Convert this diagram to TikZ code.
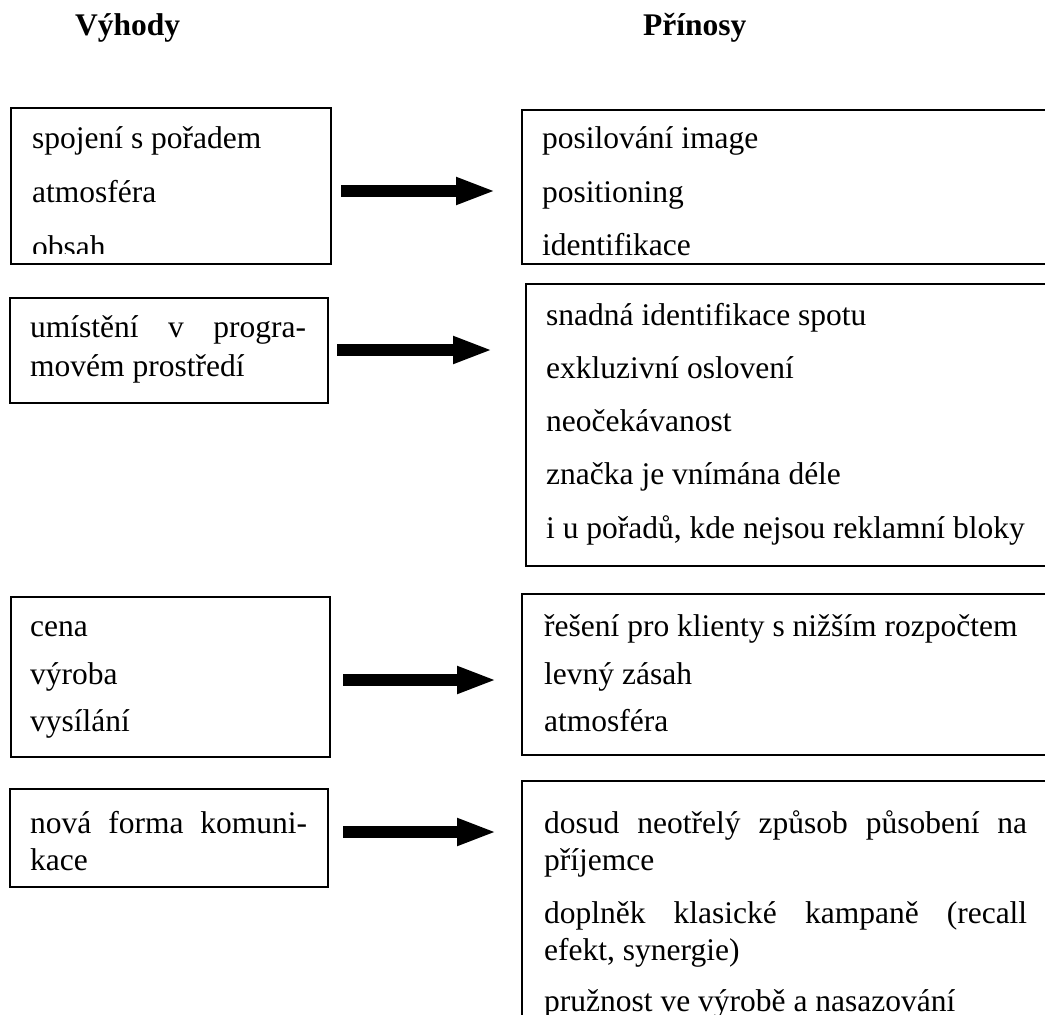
\documentclass[tikz,border=0pt]{standalone}
\usepackage{fontspec}
\setmainfont{Liberation Serif}
\usetikzlibrary{arrows.meta}
\begin{document}
\begin{tikzpicture}[x=1pt,y=-1pt,
  box/.style={draw, line width=2.2pt, inner sep=0pt, anchor=north west},
  item/.style={anchor=base west, inner sep=0pt, font=\fontsize{31.5pt}{39pt}\selectfont},
  head/.style={anchor=base west, inner sep=0pt, font=\fontsize{31.5pt}{39pt}\selectfont\bfseries},
  fatarrow/.style={line width=12pt, -{Triangle[length=40pt,width=25pt]}}]
\useasboundingbox (0,0) rectangle (1045,1015);
\clip (0,0) rectangle (1045,1015);

% column headings
\node[head] (hv) at (75,35) {Výhody};
\node[head] (hp) at (643,35) {Přínosy};

% row 1
\node[box, minimum width=320pt, minimum height=156pt] (l1) at (10,107) {};
\node[box, minimum width=600pt, minimum height=154pt] (r1) at (521,109) {};
\begin{scope}
  \clip (10,107) rectangle (330,253);
  \node[item] (l1a) at (32,148) {spojení s pořadem};
  \node[item] (l1b) at (32,202) {atmosféra};
  \node[item] (l1c) at (32,257) {obsah};
\end{scope}
\begin{scope}
  \clip (521,109) rectangle (1045,257);
  \node[item] (r1a) at (542,148) {posilování image};
  \node[item] (r1b) at (542,202) {positioning};
  \node[item] (r1c) at (542,255) {identifikace};
\end{scope}
\coordinate (a1s) at (341,191);
\coordinate (a1e) at (496,191);
\draw[fatarrow] (a1s) -- (a1e);

% row 2
\node[box, minimum width=318pt, minimum height=105pt] (l2) at (9,297) {};
\node[box, minimum width=600pt, minimum height=282pt] (r2) at (525,283) {};
\node[item] (l2a) at (30,337) {\hbox to 276pt{umístění\hfill v\hfill progra-}};
\node[item] (l2b) at (30,376) {movém prostředí};
\node[item] (r2a) at (546,325) {snadná identifikace spotu};
\node[item] (r2b) at (546,378) {exkluzivní oslovení};
\node[item] (r2c) at (546,431) {neočekávanost};
\node[item] (r2d) at (546,484) {značka je vnímána déle};
\node[item] (r2e) at (546,538) {i u pořadů, kde nejsou reklamní bloky};
\coordinate (a2s) at (337,350);
\coordinate (a2e) at (493,350);
\draw[fatarrow] (a2s) -- (a2e);

% row 3
\node[box, minimum width=319pt, minimum height=160pt] (l3) at (10,596) {};
\node[box, minimum width=600pt, minimum height=161pt] (r3) at (521,593) {};
\node[item] (l3a) at (30,636) {cena};
\node[item] (l3b) at (30,684) {výroba};
\node[item] (l3c) at (30,731) {vysílání};
\node[item] (r3a) at (544,636) {řešení pro klienty s nižším rozpočtem};
\node[item] (r3b) at (544,684) {levný zásah};
\node[item] (r3c) at (544,731) {atmosféra};
\coordinate (a3s) at (343,680);
\coordinate (a3e) at (497,680);
\draw[fatarrow] (a3s) -- (a3e);

% row 4
\node[box, minimum width=318pt, minimum height=98pt] (l4) at (9,788) {};
\node[box, minimum width=600pt, minimum height=300pt] (r4) at (521,780) {};
\node[item] (l4a) at (30,833) {\hbox to 277pt{nová\hfill forma\hfill komuni-}};
\node[item] (l4b) at (30,870) {kace};
\node[item] (r4a) at (544,833) {\hbox to 483pt{dosud\hfill neotřelý\hfill způsob\hfill působení\hfill na}};
\node[item] (r4b) at (544,870) {příjemce};
\node[item] (r4c) at (544,923) {\hbox to 483pt{doplněk\hfill klasické\hfill kampaně\hfill (recall}};
\node[item] (r4d) at (544,960) {efekt, synergie)};
\node[item] (r4e) at (544,1011) {pružnost ve výrobě a nasazování};
\coordinate (a4s) at (343,832);
\coordinate (a4e) at (497,832);
\draw[fatarrow] (a4s) -- (a4e);
\end{tikzpicture}
\end{document}
